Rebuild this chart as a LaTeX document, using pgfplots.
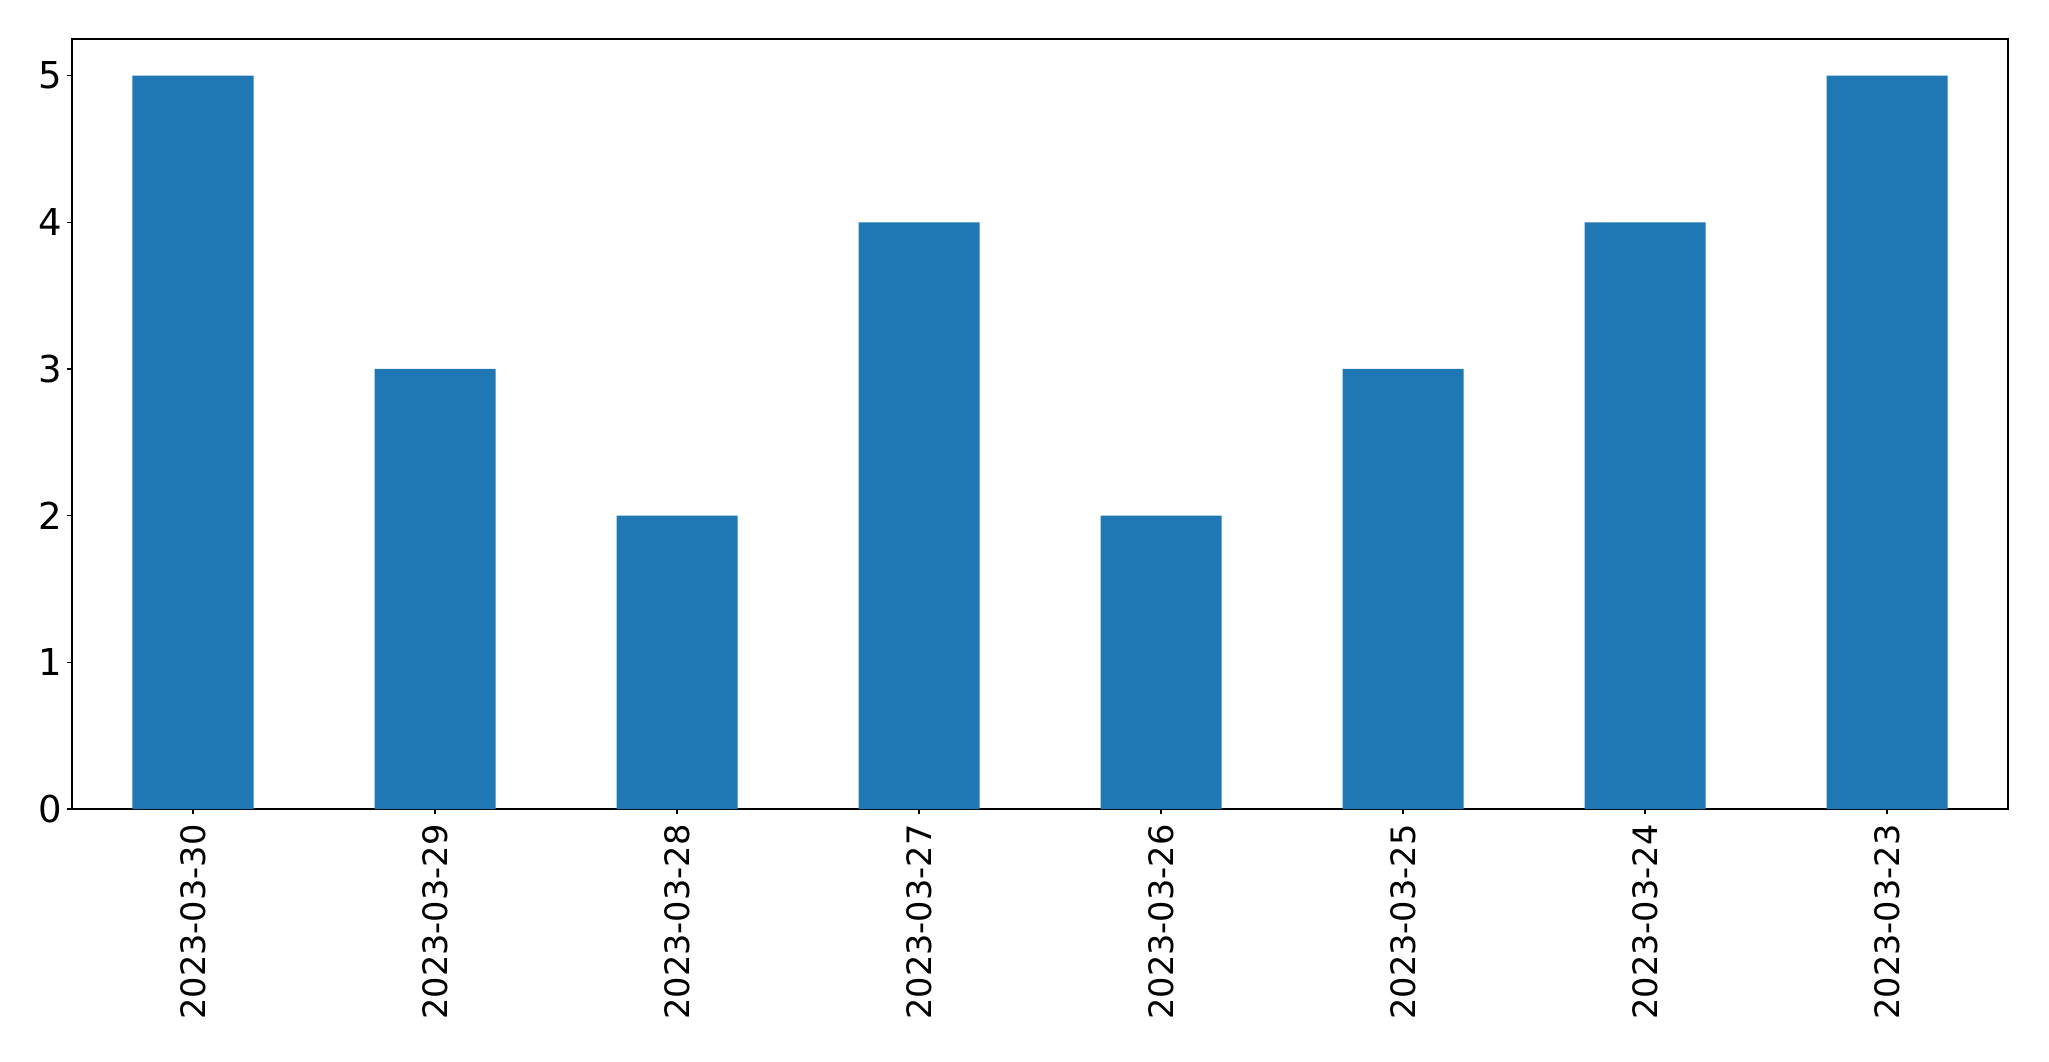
\documentclass[border=0pt]{standalone}
\usepackage{pgfplots}
\pgfplotsset{compat=1.18}
\usepackage{fontspec}
\setmainfont{DejaVu Sans}
\definecolor{mplblue}{HTML}{1F77B4}
\begin{document}
\begin{tikzpicture}
\begin{axis}[
  scale only axis,
  width=968pt, height=385pt,
  xmin=-0.5, xmax=7.5, ymin=0, ymax=5.25,
  xtick={0,...,7},
  xticklabels={2023-03-30,2023-03-29,2023-03-28,2023-03-27,2023-03-26,2023-03-25,2023-03-24,2023-03-23},
  ytick={0,1,2,3,4,5},
  tick pos=left, tick align=outside,
  major tick length=2.5pt,
  every tick/.style={black, line width=0.6pt},
  axis line style={line width=0.6pt},
  xticklabel style={font=\fontsize{16.8}{20}\selectfont, rotate=90, anchor=east, inner sep=5pt},
  yticklabel style={font=\fontsize{18.5}{22}\selectfont, inner sep=2.5pt},
  /pgf/number format/assume math mode=true,
]
\addplot[ybar, bar width=0.5, fill=mplblue, draw=none] coordinates {
(0,5) (1,3) (2,2) (3,4) (4,2) (5,3) (6,4) (7,5)};
\end{axis}
\path ([xshift=-36pt,yshift=-126pt]current axis.south west) rectangle ([xshift=20.5pt,yshift=19.5pt]current axis.north east);
\end{tikzpicture}
\end{document}
